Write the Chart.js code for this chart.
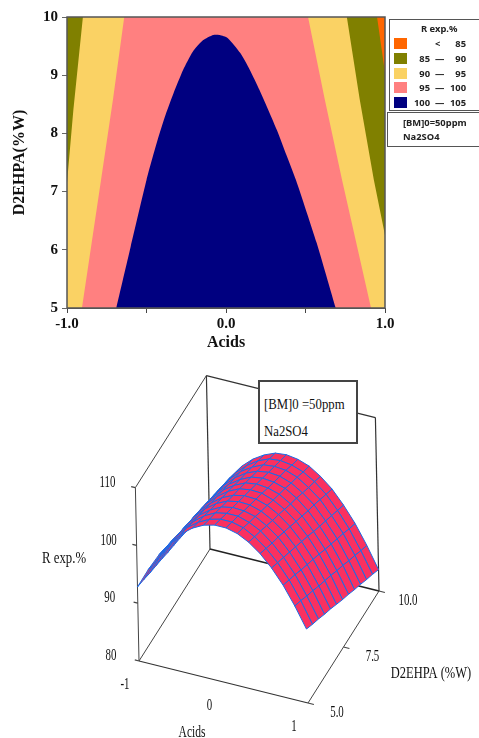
<!DOCTYPE html>
<html>
<head>
<meta charset="utf-8">
<title>R exp.% contour and surface</title>
<script src="https://cdn.jsdelivr.net/npm/chart.js@4"></script>
<style>
  html, body { margin: 0; padding: 0; background: #fff; overflow: hidden; }
  canvas { position: absolute; left: 0; }
  #contour { top: 0; }
  #surface { top: 350px; }
  .box { position: absolute; background: #fff; box-sizing: border-box; color: #222; }
  #legend { left: 389px; top: 19px; width: 96px; height: 92px; border: 1px solid #555;
            font: bold 9.4px "Noto Sans", sans-serif; }
  #legend div { position: absolute; white-space: nowrap; line-height: 12px; }
  #legend .sw { width: 13px; height: 11px; left: 4px; }
  #note1 { left: 387px; top: 112px; width: 98px; height: 35px; border: 1px solid #555;
           font: bold 9.4px "Noto Sans", sans-serif; line-height: 14px; padding: 3px 0 0 15px; }
  #note2 { left: 258px; top: 380px; width: 100px; height: 64px; border: 2px solid #444;
           font: 14.5px "Liberation Serif", serif; color: #111; padding: 0 0 0 4px; }
  #note2 span { display: block; transform: scaleX(.88); transform-origin: left; white-space: nowrap; }
</style>
</head>
<body>
<canvas id="contour" width="479" height="352"></canvas>
<canvas id="surface" width="479" height="388"></canvas>
<div id="legend" class="box"></div>
<div id="note1" class="box">[BM]0=50ppm<br>Na2SO4</div>
<div id="note2" class="box"><span style="margin-top:14px">[BM]0 =50ppm</span><span style="margin-top:10px">Na2SO4</span></div>
<script>
// Top plot: contour regions, [acids, D2EHPA] along each band edge
var region85 = [[-1, 5], [1, 5], [1, 10], [-1, 10]];
var regionLow = [[0.95, 10], [1, 10], [1, 9.04]];
var region90 = [[-0.90, 10], [-0.96, 8.4], [-1, 7.15], [-1, 5], [1, 5], [1, 6.25], [0.93, 7.2], [0.84, 8.6], [0.76, 10]];
var region95 = [[-0.64, 10], [-0.71, 8.6], [-0.786, 7.2], [-0.906, 5], [0.912, 5], [0.73, 7.2], [0.62, 8.6], [0.516, 10]];
var region100 = [[-0.69, 5], [-0.60, 6.05], [-0.50, 7.2], [-0.43, 7.89], [-0.38, 8.32], [-0.33, 8.69], [-0.27, 9.09], [-0.21, 9.4],
                 [-0.145, 9.6], [-0.08, 9.69], [-0.04, 9.69], [0.01, 9.64], [0.09, 9.38], [0.15, 9.09], [0.21, 8.75],
                 [0.32, 8.06], [0.38, 7.63], [0.44, 7.2], [0.57, 6.12], [0.69, 5]];

var legendFrom = ['', '85', '90', '95', '100'];
var legendTo = ['85', '90', '95', '100', '105'];
var legendColors = ['#ff6600', '#808000', '#fad264', '#ff8080', '#000080'];

// Bottom plot: R exp.%, one list per acids value, D2EHPA running 5 to 10
var acidSteps = [-1, -0.867, -0.733, -0.6, -0.467, -0.333, -0.2, -0.067, 0.067, 0.2, 0.333, 0.467, 0.6, 0.733, 0.867, 1];
var d2ehpaSteps = [5, 5.417, 5.833, 6.25, 6.667, 7.083, 7.5, 7.917, 8.333, 8.75, 9.167, 9.583, 10];
var surfaceR = [
  [92.8, 92.4, 91.9, 91.5, 91.1, 90.6, 90.2, 89.8, 89.3, 88.9, 88.5, 88.0, 87.6],
  [96.3, 95.8, 95.4, 94.9, 94.5, 94.0, 93.6, 93.1, 92.6, 92.2, 91.7, 91.3, 90.8],
  [99.4, 98.9, 98.4, 97.9, 97.4, 96.9, 96.5, 96.0, 95.5, 95.0, 94.5, 94.0, 93.5],
  [101.9, 101.4, 100.9, 100.4, 99.9, 99.4, 98.9, 98.3, 97.8, 97.3, 96.8, 96.3, 95.8],
  [103.9, 103.4, 102.8, 102.3, 101.8, 101.2, 100.7, 100.2, 99.6, 99.1, 98.6, 98.0, 97.5],
  [105.4, 104.8, 104.3, 103.7, 103.2, 102.6, 102.1, 101.5, 100.9, 100.4, 99.8, 99.3, 98.7],
  [106.4, 105.8, 105.3, 104.7, 104.1, 103.5, 103.0, 102.4, 101.8, 101.2, 100.7, 100.1, 99.5],
  [106.9, 106.3, 105.7, 105.1, 104.5, 103.9, 103.3, 102.7, 102.1, 101.5, 100.9, 100.3, 99.7],
  [106.9, 106.3, 105.7, 105.0, 104.4, 103.8, 103.2, 102.5, 101.9, 101.3, 100.7, 100.0, 99.4],
  [106.4, 105.8, 105.1, 104.5, 103.8, 103.2, 102.5, 101.9, 101.3, 100.6, 100.0, 99.3, 98.7],
  [105.4, 104.7, 104.1, 103.4, 102.7, 102.1, 101.4, 100.7, 100.1, 99.4, 98.7, 98.1, 97.4],
  [103.9, 103.2, 102.5, 101.9, 101.2, 100.5, 99.8, 99.1, 98.4, 97.8, 97.1, 96.4, 95.7],
  [101.9, 101.2, 100.5, 99.8, 99.1, 98.4, 97.7, 96.9, 96.2, 95.5, 94.8, 94.1, 93.4],
  [99.4, 98.7, 98.0, 97.2, 96.5, 95.8, 95.1, 94.3, 93.6, 92.9, 92.2, 91.4, 90.7],
  [96.3, 95.6, 94.8, 94.1, 93.3, 92.6, 91.9, 91.1, 90.4, 89.6, 88.9, 88.1, 87.4],
  [92.8, 92.0, 91.3, 90.5, 89.8, 89.0, 88.2, 87.5, 86.7, 86.0, 85.2, 84.5, 83.7]
];
var zTicks = [80, 90, 100, 110];
var acidTicks = [-1, 0, 1];
var d2ehpaTicks = [5, 7.5, 10];

var SERIF = '"Liberation Serif", serif';

// legend rows
var legendEl = document.getElementById('legend');
function addLegendText(txt, left, top, right) {
  var d = document.createElement('div');
  d.textContent = txt;
  d.style.top = top + 'px';
  if (right) { d.style.right = left + 'px'; } else { d.style.left = left + 'px'; }
  legendEl.appendChild(d);
}
addLegendText('R exp.%', 31, 3);
legendColors.forEach(function (c, i) {
  var top = 18 + i * 14.8;
  var sw = document.createElement('div');
  sw.className = 'sw';
  sw.style.background = c;
  sw.style.top = top + 'px';
  legendEl.appendChild(sw);
  addLegendText(legendFrom[i], 54, top, true);
  addLegendText(i === 0 ? '<' : '\u2014', 45, top);
  addLegendText(legendTo[i], 18, top, true);
});

function pts(list) {
  return list.map(function (p) { return { x: p[0], y: p[1] }; });
}
function band(list, color, tension) {
  return { data: pts(list), showLine: true, fill: 'shape', backgroundColor: color, borderColor: color,
           borderWidth: 0, pointRadius: 0, tension: tension || 0 };
}

// Chart.js paints the first dataset last
new Chart(document.getElementById('contour'), {
  type: 'scatter',
  data: {
    datasets: [
      { data: pts([[-1, 5], [1, 5], [1, 10], [-1, 10], [-1, 5]]), showLine: true, borderColor: '#555', borderWidth: 1.5,
        pointRadius: 0, clip: false, fill: false },
      band(region100, '#000080', 0.2),
      band(region95, '#ff8080'),
      band(regionLow, '#ff6600'),
      band(region90, '#fad264'),
      band(region85, '#808000')
    ]
  },
  options: {
    responsive: false,
    animation: false,
    layout: { padding: { top: 17, right: 94 } },
    plugins: { legend: { display: false }, tooltip: { enabled: false } },
    scales: {
      x: {
        type: 'linear', min: -1, max: 1,
        afterFit: function (s) { s.height = 44; },
        border: { color: '#555' },
        grid: { drawOnChartArea: false, tickLength: 5, tickColor: '#444' },
        ticks: {
          stepSize: 0.5, maxRotation: 0, padding: 2, color: '#111',
          font: { family: SERIF, size: 15, weight: 'bold' },
          callback: function (v) { return Math.abs(v) === 0.5 ? '' : v.toFixed(1); }
        },
        title: { display: true, text: 'Acids', color: '#111', padding: 0, font: { family: SERIF, size: 16, weight: 'bold' } }
      },
      y: {
        type: 'linear', min: 5, max: 10,
        afterFit: function (s) { s.width = 67; },
        border: { color: '#555' },
        grid: { drawOnChartArea: false, tickLength: 5, tickColor: '#666' },
        ticks: { stepSize: 1, padding: 4, color: '#111', font: { family: SERIF, size: 15, weight: 'bold' } },
        title: { display: true, text: 'D2EHPA(%W)', color: '#111', padding: { top: 10, bottom: 0 }, font: { family: SERIF, size: 16, weight: 'bold' } }
      }
    }
  }
});

// view transform for the 3D box: acids, D2EHPA, R -> page position
function project(a, d, z) {
  return {
    x: 139 + 84.5 * (a + 1) + 14.2 * (d - 5) - 0.12 * (z - 80),
    y: 661 + 21 * (a + 1) - 22.4 * (d - 5) - 5.78 * (z - 80)
  };
}
function edge(from, to, width, color) {
  return { data: [project(from[0], from[1], from[2]), project(to[0], to[1], to[2])], showLine: true, fill: false,
           borderColor: color || '#444', borderWidth: width || 1, pointRadius: 0 };
}

var surfaceSets = [];
// nearest corner (acids 1, D2EHPA 5) first so it ends up on top
for (var i = acidSteps.length - 2; i >= 0; i--) {
  for (var j = 0; j < d2ehpaSteps.length - 1; j++) {
    surfaceSets.push({
      data: [
        project(acidSteps[i], d2ehpaSteps[j], surfaceR[i][j]),
        project(acidSteps[i + 1], d2ehpaSteps[j], surfaceR[i + 1][j]),
        project(acidSteps[i + 1], d2ehpaSteps[j + 1], surfaceR[i + 1][j + 1]),
        project(acidSteps[i], d2ehpaSteps[j + 1], surfaceR[i][j + 1]),
        project(acidSteps[i], d2ehpaSteps[j], surfaceR[i][j])
      ],
      showLine: true, fill: 'shape', backgroundColor: '#fa3060', borderColor: '#1a6ae6', borderWidth: 1,
      pointRadius: 0, tension: 0
    });
  }
}

var boxSets = [
  edge([-1, 5, 80], [-1, 5, 110]),
  edge([-1, 5, 110], [-1, 10, 110]),
  edge([-1, 10, 110], [1, 10, 110], 1.2, '#333'),
  edge([-1, 10, 110], [-1, 10, 80], 1.2, '#333'),
  edge([1, 10, 110], [1, 10, 80], 1.2, '#333'),
  edge([-1, 10, 80], [1, 10, 80], 1.5, '#222'),
  edge([-1, 5, 80], [-1, 10, 80]),
  edge([-1, 5, 80], [1, 5, 80], 1.2, '#333'),
  edge([1, 5, 80], [1, 10, 80])
];
zTicks.forEach(function (z) { boxSets.push(edge([-1, 5, z], [-1.05, 5, z], 1.2)); });
d2ehpaTicks.forEach(function (d) { boxSets.push(edge([1, d, 80], [1.07, d, 80], 1.2)); });

// tick labels and axis names, squeezed to the narrow lettering of the picture
var boxLabels = {
  id: 'boxLabels',
  afterDraw: function (chart) {
    var ctx = chart.ctx, sx = chart.scales.x, sy = chart.scales.y;
    function put(txt, px, py, squeeze) {
      ctx.save();
      ctx.translate(sx.getPixelForValue(px), sy.getPixelForValue(py));
      ctx.scale(squeeze, 1);
      ctx.font = '16px ' + SERIF;
      ctx.fillStyle = '#111';
      ctx.textAlign = 'center';
      ctx.textBaseline = 'middle';
      ctx.fillText(txt, 0, 0);
      ctx.restore();
    }
    zTicks.forEach(function (z) {
      var p = project(-1, 5, z);
      put(String(z), p.x - 28, p.y - 5, 0.68);
    });
    acidTicks.forEach(function (a) {
      var p = project(a, 5, 80);
      put(String(a), p.x - 14, p.y + 24, 0.68);
    });
    d2ehpaTicks.forEach(function (d) {
      var p = project(1, d, 80);
      put(d.toFixed(1), p.x + 29, p.y + 10, 0.68);
    });
    put('R exp.%', 64, 559, 0.8);
    put('Acids', 192, 733, 0.72);
    put('D2EHPA (%W)', 431, 674, 0.78);
  }
};

new Chart(document.getElementById('surface'), {
  type: 'scatter',
  data: { datasets: surfaceSets.concat(boxSets) },
  plugins: [boxLabels],
  options: {
    responsive: false,
    animation: false,
    plugins: { legend: { display: false }, tooltip: { enabled: false } },
    scales: {
      x: { type: 'linear', display: false, min: 0, max: 479 },
      y: { type: 'linear', display: false, min: 350, max: 738, reverse: true }
    }
  }
});
</script>
</body>
</html>
